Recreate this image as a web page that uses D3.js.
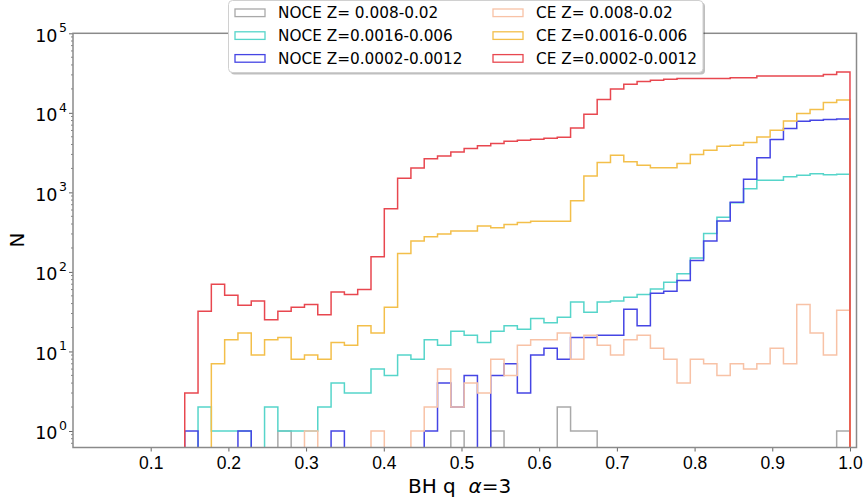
<!DOCTYPE html>
<html>
<head>
  <meta charset="utf-8">
  <title>BH q histogram</title>
  <script src="https://d3js.org/d3.v7.min.js"></script>
  <style>
    body { margin: 0; background: #fff; }
    svg { font-family: "DejaVu Sans", sans-serif; }
  </style>
</head>
<body>
  <svg id="chart" width="865" height="504"></svg>
  <script>
    // histogram bins: 50 equal bins between the smallest and largest q
    const binStart = 0.1438, binEnd = 1.0, binCount = 50;

    // counts per bin
    const noceHigh = [0,0,0,0,0,0,0,1,0,0, 0,0,0,0,0,0,0,0,0,0, 1,0,0,1,0,0,0,0,2,1,
                      1,0,0,0,0,0,0,0,0,0, 0,0,0,0,0,0,0,0,0,1];
    const noceMid  = [0,2,1,1,1,0,2,1,1,1, 2,4,3,3,6,5,9,8,14,12, 18,16,13,18,21,19,26,23,27,42,
                      31,42,43,48,52,61,74,95,150,304, 488,740,1107,1423,1423,1567,1644,1710,1670,1690];
    const noceLow  = [1,0,0,0,1,0,0,0,0,0, 0,1,0,0,0,0,0,0,1,4, 2,5,0,5,7,3,9,11,8,15,
                      15,16,16,34,21,54,57,78,139,244, 438,753,1466,2716,4615,6350,7840,8070,8240,8390];
    const ceHigh   = [0,0,0,0,0,0,0,0,0,1, 0,0,0,0,1,0,0,1,2,6, 2,4,3,8,5,12,14,14,17,8,
                      16,12,9,14,16,11,8,4,8,7, 5,7,6,7,11,7,39,17,9,33];
    const ceMid    = [0,0,7,14,17,9,14,15,8,9, 8,13,12,21,17,36,171,244,276,299,
                      326,326,379,358,395,419,435,435,435,782, 1610,2373,2930,2420,2200,2033,2033,2306,2990,3390,
                      3800,3920,4240,4980,6040,7900,9800,11000,13450,14500];
    const ceLow    = [3,32,70,51,38,43,25,32,36,39, 29,56,52,60,155,621,1507,2032,2650,2876,
                      3228,3557,3843,4115,4398,4530,4660,4800,4940,6460, 9600,14700,19950,22850,24700,25700,26500,27000,27000,27000,
                      27000,27600,27600,29000,29000,29000,29000,29000,30300,32600];

    const seriesNames = ["NOCE Z= 0.008-0.02", "NOCE Z=0.0016-0.006", "NOCE Z=0.0002-0.0012",
                         "CE Z= 0.008-0.02", "CE Z=0.0016-0.006", "CE Z=0.0002-0.0012"];
    const seriesValues = [noceHigh, noceMid, noceLow, ceHigh, ceMid, ceLow];
    const colors = ["#a9a9a9", "#56d5ca", "#4545e4", "#f8c2a6", "#f3bf4a", "#e8474f"];

    const xTicks = [0.1, 0.2, 0.3, 0.4, 0.5, 0.6, 0.7, 0.8, 0.9, 1.0];
    const yTicks = [1, 10, 100, 1000, 10000, 100000];

    const plot = {left: 73, right: 856.5, top: 33.3, bottom: 447.5};

    const svg = d3.select("#chart");

    const x = d3.scaleLinear().domain([0, 1.0084]).range([plot.left, plot.right]);
    const y = d3.scaleLog().domain([0.62, 1e5]).range([plot.bottom, plot.top]);

    const edges = d3.range(binCount + 1).map(i => binStart + (binEnd - binStart) * i / binCount);

    svg.append("defs").append("clipPath").attr("id", "clip")
      .append("rect")
      .attr("x", plot.left).attr("y", plot.top)
      .attr("width", plot.right - plot.left).attr("height", plot.bottom - plot.top);

    // step outline for one histogram
    function stepPath(vals) {
      const low = plot.bottom + 30;
      const yy = v => v > 0 ? y(v) : low;
      let p = `M${x(edges[0])},${low}`;
      vals.forEach((v, i) => {
        p += `L${x(edges[i])},${yy(v)}L${x(edges[i + 1])},${yy(v)}`;
      });
      p += `L${x(edges[binCount])},${low}`;
      return p;
    }

    const lines = svg.append("g").attr("clip-path", "url(#clip)");
    seriesValues.forEach((vals, i) => {
      lines.append("path")
        .attr("d", stepPath(vals))
        .attr("fill", "none")
        .attr("stroke", colors[i])
        .attr("stroke-width", 1.5);
    });

    // x axis
    const xAxis = svg.append("g")
      .attr("transform", `translate(0,${plot.bottom})`)
      .call(d3.axisBottom(x).tickValues(xTicks).tickFormat(d3.format(".1f")).tickSize(4).tickPadding(5));
    xAxis.select(".domain").remove();
    xAxis.selectAll("line").attr("stroke", "#666");
    xAxis.selectAll("text").style("font-size", "17.5px").attr("fill", "#000");

    // y axis, major ticks with 10^n labels
    const yAxis = svg.append("g")
      .attr("transform", `translate(${plot.left},0)`)
      .call(d3.axisLeft(y).tickValues(yTicks).tickFormat("").tickSize(4));
    yAxis.select(".domain").remove();
    yAxis.selectAll("line").attr("stroke", "#666");

    yTicks.forEach(t => {
      svg.append("text")
        .attr("x", 57.5)
        .attr("y", y(t) + 8.5)
        .attr("text-anchor", "end")
        .style("font-size", "17.5px")
        .text("10");
      svg.append("text")
        .attr("x", 59)
        .attr("y", y(t) - 1)
        .style("font-size", "12.5px")
        .text(Math.round(Math.log10(t)));
    });

    // minor log ticks
    const minor = [];
    for (let e = -1; e < 5; e++) {
      for (let m = 2; m < 10; m++) {
        const v = m * Math.pow(10, e);
        if (v >= y.domain()[0] && v <= 1e5) minor.push(v);
      }
    }
    svg.append("g").selectAll("line").data(minor).join("line")
      .attr("x1", plot.left - 2).attr("x2", plot.left)
      .attr("y1", d => y(d)).attr("y2", d => y(d))
      .attr("stroke", "#666").attr("stroke-width", 0.8);

    // frame
    svg.append("rect")
      .attr("x", plot.left).attr("y", plot.top)
      .attr("width", plot.right - plot.left).attr("height", plot.bottom - plot.top)
      .attr("fill", "none").attr("stroke", "#8a8a8a").attr("stroke-width", 1.5);

    // axis titles
    const xl = svg.append("text")
      .attr("x", 408).attr("y", 493)
      .style("font-size", "20px")
      .style("white-space", "pre");
    xl.append("tspan").text("BH q  ");
    xl.append("tspan").attr("font-style", "italic").text("\u03b1");
    xl.append("tspan").text("=3");

    svg.append("text")
      .attr("transform", `translate(24,240) rotate(-90)`)
      .attr("text-anchor", "middle")
      .style("font-size", "20px")
      .text("N");

    // legend
    const leg = {x: 228.5, y: 0.5, w: 474.5, h: 72};
    svg.append("rect")
      .attr("x", leg.x + 2).attr("y", leg.y + 2)
      .attr("width", leg.w).attr("height", leg.h)
      .attr("rx", 4).attr("fill", "#000").attr("opacity", 0.25);
    svg.append("rect")
      .attr("x", leg.x).attr("y", leg.y)
      .attr("width", leg.w).attr("height", leg.h)
      .attr("rx", 4).attr("fill", "#fff").attr("stroke", "#d0d0d0");

    const legItems = svg.append("g").selectAll("g")
      .data(seriesNames)
      .join("g")
      .attr("transform", (d, i) => `translate(${i < 3 ? 235 : 493},${12.8 + (i % 3) * 22.8})`);
    legItems.append("rect")
      .attr("x", 0).attr("y", -3.8)
      .attr("width", 30).attr("height", 7.6)
      .attr("fill", "none")
      .attr("stroke", (d, i) => colors[i])
      .attr("stroke-width", 1.3);
    legItems.append("text")
      .attr("x", 43).attr("y", 5.5)
      .style("font-size", "15.3px")
      .text(d => d);
  </script>
</body>
</html>
